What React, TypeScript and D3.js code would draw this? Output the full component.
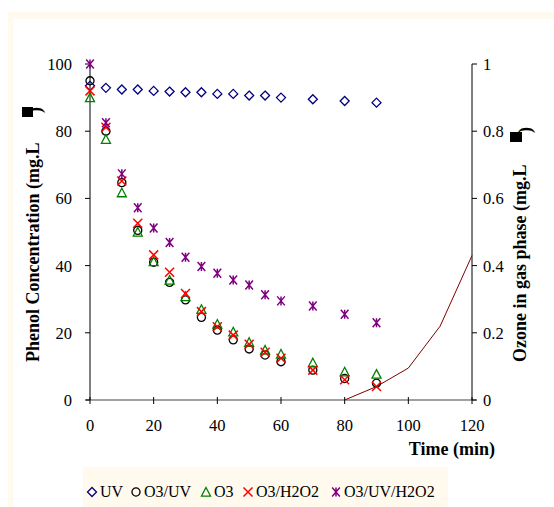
import React, { useEffect, useRef } from "react";
import * as d3 from "d3";

// Phenol concentration vs time, one array per treatment
const time = [0, 5, 10, 15, 20, 25, 30, 35, 40, 45, 50, 55, 60, 70, 80, 90];
const uv = [93.5, 92.9, 92.4, 92.4, 92.0, 91.8, 91.6, 91.6, 91.1, 91.1, 90.6, 90.6, 90.0, 89.5, 89.0, 88.5];
const o3uv = [95, 80, 64.7, 50.5, 41, 35.0, 29.8, 24.6, 20.8, 17.9, 15.2, 13.4, 11.4, 8.9, 6.4, 5.0];
const o3 = [90, 77.6, 61.7, 50, 41.2, 35.7, 30.8, 27.0, 22.6, 20.3, 17.2, 14.9, 13.7, 11.1, 8.4, 7.7];
const o3h2o2 = [92, 81.2, 65.2, 52.6, 43.2, 38.0, 31.7, 26.3, 21.8, 19.3, 16.6, 14.2, 12.4, 8.9, 6.0, 4.0];
const o3uvh2o2 = [100, 82.5, 67.3, 57.2, 51.2, 46.9, 42.5, 39.7, 37.7, 35.7, 34.2, 31.3, 29.5, 28.0, 25.5, 23.0];

// ozone in gas phase (right axis)
const ozoneTime = [80, 90, 100, 110, 120];
const ozone = [0, 0.04, 0.095, 0.22, 0.43];

const xTicks = [0, 20, 40, 60, 80, 100, 120];
const yTicks = [0, 20, 40, 60, 80, 100];
const y2Ticks = [0, 0.2, 0.4, 0.6, 0.8, 1];

const seriesNames = ["UV", "O3/UV", "O3", "O3/H2O2", "O3/UV/H2O2"];
const seriesValues = [uv, o3uv, o3, o3h2o2, o3uvh2o2];
const seriesColors = ["#000080", "#000000", "#008000", "#ff0000", "#800080"];
const seriesShapes = ["diamond", "circle", "triangle", "cross", "star"];

const FONT = "'Liberation Serif', 'Times New Roman', serif";

function markerPath(shape: string, r: number) {
  const p = d3.path();
  if (shape === "diamond") {
    p.moveTo(0, -r); p.lineTo(r, 0); p.lineTo(0, r); p.lineTo(-r, 0); p.closePath();
  } else if (shape === "circle") {
    p.arc(0, 0, r * 0.9, 0, Math.PI * 2);
  } else if (shape === "triangle") {
    p.moveTo(0, -r); p.lineTo(r, r * 0.9); p.lineTo(-r, r * 0.9); p.closePath();
  } else if (shape === "cross") {
    p.moveTo(-r, -r); p.lineTo(r, r); p.moveTo(r, -r); p.lineTo(-r, r);
  } else {
    p.moveTo(-r * 0.85, -r); p.lineTo(r * 0.85, r);
    p.moveTo(r * 0.85, -r); p.lineTo(-r * 0.85, r);
    p.moveTo(0, -r); p.lineTo(0, r);
  }
  return p.toString();
}

export default function App() {
  const svgRef = useRef<SVGSVGElement>(null);

  useEffect(() => {
    const svg = d3.select(svgRef.current);
    svg.selectAll("*").remove();

    // frame: cream border and white chart area
    svg.append("rect").attr("x", 8).attr("y", 12).attr("width", 560).attr("height", 510).attr("fill", "#fff9ee");
    svg.append("rect").attr("x", 13).attr("y", 19).attr("width", 560).attr("height", 510).attr("fill", "#ffffff");

    const x = d3.scaleLinear().domain([0, 120]).range([90, 472]);
    const y = d3.scaleLinear().domain([0, 100]).range([400, 64]);
    const y2 = d3.scaleLinear().domain([0, 1]).range([400, 64]);

    // x axis
    svg.append("line").attr("x1", 86).attr("x2", 476).attr("y1", 400).attr("y2", 400)
      .attr("stroke", "#808080").attr("stroke-width", 1.3);
    svg.selectAll(".xt").data(xTicks).enter().append("line")
      .attr("x1", d => x(d)).attr("x2", d => x(d)).attr("y1", 397).attr("y2", 404)
      .attr("stroke", "#000").attr("stroke-width", 1);
    svg.selectAll(".xl").data(xTicks).enter().append("text")
      .attr("x", d => x(d)).attr("y", 431).attr("text-anchor", "middle")
      .style("font-family", FONT).style("font-size", "16.5px").text(d => d);

    // left axis
    svg.append("line").attr("x1", 90).attr("x2", 90).attr("y1", y(100)).attr("y2", 400)
      .attr("stroke", "#000").attr("stroke-width", 1);
    svg.selectAll(".yt").data(yTicks).enter().append("line")
      .attr("x1", 85).attr("x2", 90).attr("y1", d => y(d)).attr("y2", d => y(d))
      .attr("stroke", "#000");
    svg.selectAll(".yl").data(yTicks).enter().append("text")
      .attr("x", 72).attr("y", d => y(d) + 6).attr("text-anchor", "end")
      .style("font-family", FONT).style("font-size", "16.5px").text(d => d);

    // right axis
    svg.append("line").attr("x1", 472).attr("x2", 472).attr("y1", y2(1)).attr("y2", 400)
      .attr("stroke", "#000").attr("stroke-width", 1);
    svg.selectAll(".y2t").data(y2Ticks).enter().append("line")
      .attr("x1", 472).attr("x2", 477).attr("y1", d => y2(d)).attr("y2", d => y2(d))
      .attr("stroke", "#000");
    svg.selectAll(".y2l").data(y2Ticks).enter().append("text")
      .attr("x", 483).attr("y", d => y2(d) + 6)
      .style("font-family", FONT).style("font-size", "16.5px").text(d => d);

    // axis titles
    const bold = (sel: any) => sel.style("font-family", FONT).style("font-size", "18px").style("font-weight", "bold");
    svg.append("text").attr("transform", "translate(39,362) rotate(-90)")
      .call(bold).text("Phenol Concentration (mg.L");
    svg.append("rect").attr("x", 22).attr("y", 107).attr("width", 11).attr("height", 10).attr("fill", "#000");
    svg.append("text").attr("transform", "translate(41,113) rotate(-90)")
      .call(bold).text(")");

    svg.append("text").attr("transform", "translate(526,362) rotate(-90)")
      .call(bold).text("Ozone in gas phase (mg.L");
    svg.append("rect").attr("x", 510).attr("y", 132).attr("width", 12).attr("height", 10).attr("fill", "#000");
    svg.append("text").attr("transform", "translate(531,133) rotate(-90)")
      .call(bold).text(")");

    svg.append("text").attr("x", 495).attr("y", 455).attr("text-anchor", "end")
      .call(bold).text("Time (min)");

    // ozone line
    const line = d3.line<number>().x((d, i) => x(ozoneTime[i])).y(d => y2(d));
    svg.append("path").datum(ozone).attr("d", line).attr("fill", "none")
      .attr("stroke", "#800000").attr("stroke-width", 1);

    // markers
    seriesValues.forEach((vals, si) => {
      const shape = seriesShapes[si];
      svg.append("g").selectAll("path").data(vals).enter().append("path")
        .attr("transform", (d, i) => `translate(${x(time[i])},${y(d)})`)
        .attr("d", markerPath(shape, 4.5))
        .attr("fill", "none")
        .attr("stroke", seriesColors[si])
        .attr("stroke-width", shape === "cross" || shape === "star" ? 1.5 : 1.3);
    });

    // legend
    svg.append("rect").attr("x", 83).attr("y", 467).attr("width", 365).attr("height", 50).attr("fill", "#fff9ee");
    const legendX = [92, 136, 206, 248, 336];
    seriesNames.forEach((name, i) => {
      svg.append("path")
        .attr("transform", `translate(${legendX[i]},492)`)
        .attr("d", markerPath(seriesShapes[i], 4.5))
        .attr("fill", "none").attr("stroke", seriesColors[i])
        .attr("stroke-width", seriesShapes[i] === "cross" || seriesShapes[i] === "star" ? 1.5 : 1.3);
      svg.append("text").attr("x", legendX[i] + 8).attr("y", 497)
        .style("font-family", FONT).style("font-size", "16px").text(name);
    });
  }, []);

  return (
    <svg ref={svgRef} width={554} height={507}
      style={{ position: "absolute", left: 0, top: 0, background: "#fff" }} />
  );
}
